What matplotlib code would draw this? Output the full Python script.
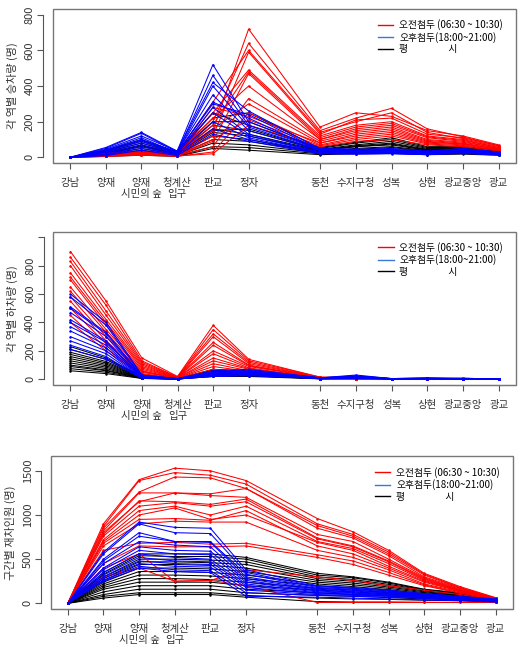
import matplotlib.pyplot as plt
from matplotlib.patches import Rectangle

plt.rcParams["font.family"] = ["Noto Sans CJK KR", "DejaVu Sans"]

stations = ["강남", "양재", "양재\n시민의 숲", "청계산\n입구", "판교", "정자",
            "동천", "수지구청", "성복", "상현", "광교중앙", "광교"]
# 정자와 동천 사이 한 칸 비움 (미금)
xpos = [0, 1, 2, 3, 4, 5, 7, 8, 9, 10, 11, 12]
legend_labels = ["오전첨두 (06:30 ~ 10:30)", "오후첨두(18:00~21:00)", "평                   시"]

# 각 역별 승차량
board_am = [
    [0, 20, 30, 15, 150, 720, 170, 250, 230, 150, 120, 70],
    [0, 15, 25, 10, 200, 640, 150, 220, 275, 160, 115, 65],
    [0, 25, 35, 20, 310, 600, 140, 200, 250, 140, 105, 60],
    [0, 10, 20, 10, 120, 590, 130, 210, 220, 130, 110, 65],
    [0, 18, 30, 15, 250, 490, 120, 180, 200, 120, 100, 55],
    [0, 12, 25, 12, 180, 480, 110, 170, 190, 115, 95, 55],
    [0, 8, 15, 8, 90, 470, 100, 160, 180, 110, 90, 50],
    [0, 20, 30, 15, 220, 400, 100, 150, 170, 100, 85, 50],
    [0, 10, 20, 10, 60, 330, 90, 140, 160, 95, 80, 45],
    [0, 15, 25, 12, 160, 300, 80, 130, 150, 90, 75, 45],
    [0, 5, 12, 6, 30, 250, 70, 110, 130, 80, 70, 40],
    [0, 12, 20, 10, 100, 210, 65, 100, 120, 75, 65, 40],
    [0, 8, 15, 8, 20, 180, 60, 90, 100, 70, 60, 35],
    [0, 20, 30, 12, 280, 230, 80, 120, 140, 85, 75, 45],
]
board_pm = [
    [0, 55, 140, 35, 520, 200, 50, 45, 50, 35, 50, 30],
    [0, 50, 135, 30, 460, 180, 45, 40, 45, 30, 45, 30],
    [0, 45, 120, 35, 420, 260, 48, 45, 40, 35, 40, 28],
    [0, 40, 110, 25, 400, 170, 40, 38, 40, 30, 42, 25],
    [0, 35, 100, 30, 350, 150, 38, 35, 35, 28, 38, 25],
    [0, 30, 90, 25, 310, 220, 35, 30, 35, 25, 35, 22],
    [0, 25, 80, 20, 280, 130, 30, 30, 30, 22, 32, 20],
    [0, 20, 70, 20, 250, 120, 28, 25, 28, 20, 30, 20],
    [0, 15, 60, 15, 200, 110, 25, 22, 25, 18, 28, 18],
    [0, 12, 50, 15, 160, 100, 22, 20, 22, 15, 25, 15],
    [0, 10, 40, 10, 130, 90, 20, 18, 20, 15, 22, 12],
    [0, 35, 95, 28, 300, 240, 40, 35, 38, 30, 40, 25],
]
board_off = [
    [0, 40, 100, 30, 250, 180, 55, 85, 110, 60, 60, 40],
    [0, 35, 90, 25, 220, 250, 50, 80, 100, 55, 55, 38],
    [0, 30, 80, 25, 200, 200, 45, 70, 90, 50, 50, 35],
    [0, 25, 70, 20, 180, 150, 40, 65, 80, 45, 45, 32],
    [0, 20, 60, 20, 160, 130, 38, 60, 70, 40, 42, 30],
    [0, 18, 50, 15, 140, 120, 35, 50, 60, 38, 38, 28],
    [0, 15, 40, 15, 120, 100, 30, 45, 55, 35, 35, 25],
    [0, 12, 35, 12, 100, 90, 28, 40, 45, 30, 30, 22],
    [0, 10, 30, 10, 80, 70, 25, 35, 40, 25, 28, 20],
    [0, 8, 20, 8, 60, 55, 20, 28, 30, 20, 22, 15],
    [0, 5, 12, 5, 50, 40, 15, 20, 22, 15, 18, 12],
    [0, 22, 65, 18, 150, 160, 42, 60, 75, 42, 45, 30],
]

# 각 역별 하차량
alight_am = [
    [900, 550, 150, 20, 380, 140, 15, 10, 5, 5, 8, 0],
    [860, 520, 130, 15, 350, 130, 15, 10, 5, 5, 8, 0],
    [830, 480, 120, 15, 320, 120, 12, 8, 5, 4, 6, 0],
    [800, 450, 110, 12, 300, 110, 12, 8, 4, 4, 6, 0],
    [750, 420, 100, 12, 260, 100, 10, 7, 4, 3, 5, 0],
    [720, 400, 90, 10, 240, 95, 10, 7, 4, 3, 5, 0],
    [700, 380, 80, 10, 200, 90, 10, 6, 3, 3, 5, 0],
    [650, 350, 70, 10, 180, 80, 8, 6, 3, 3, 4, 0],
    [620, 330, 60, 8, 150, 75, 8, 5, 3, 2, 4, 0],
    [580, 300, 55, 8, 130, 70, 8, 5, 3, 2, 4, 0],
    [550, 270, 50, 6, 110, 60, 6, 5, 2, 2, 3, 0],
    [500, 250, 40, 6, 90, 55, 6, 4, 2, 2, 3, 0],
    [450, 220, 35, 5, 70, 50, 5, 4, 2, 2, 3, 0],
    [400, 200, 30, 5, 50, 40, 5, 3, 2, 1, 2, 0],
]
alight_pm = [
    [600, 400, 30, 5, 60, 70, 10, 30, 5, 10, 5, 0],
    [580, 380, 28, 5, 55, 65, 10, 25, 5, 8, 5, 0],
    [510, 330, 25, 5, 50, 60, 10, 22, 5, 8, 5, 0],
    [500, 320, 22, 4, 45, 55, 8, 20, 4, 7, 4, 0],
    [470, 300, 20, 4, 40, 50, 8, 18, 4, 6, 4, 0],
    [420, 270, 18, 4, 40, 50, 8, 15, 4, 6, 4, 0],
    [400, 260, 15, 3, 35, 45, 7, 15, 3, 5, 3, 0],
    [370, 240, 14, 3, 30, 40, 7, 12, 3, 5, 3, 0],
    [340, 220, 12, 3, 30, 40, 6, 12, 3, 4, 3, 0],
    [300, 200, 10, 3, 25, 35, 6, 10, 3, 4, 3, 0],
    [270, 180, 8, 2, 25, 30, 5, 10, 2, 3, 2, 0],
    [240, 160, 8, 2, 20, 30, 5, 8, 2, 3, 2, 0],
    [210, 140, 6, 2, 20, 25, 5, 8, 2, 3, 2, 0],
]
alight_off = [
    [230, 150, 20, 5, 70, 60, 8, 10, 5, 5, 5, 0],
    [210, 140, 18, 5, 65, 55, 8, 10, 5, 5, 5, 0],
    [190, 125, 16, 4, 60, 50, 7, 9, 4, 4, 4, 0],
    [175, 115, 15, 4, 55, 48, 7, 8, 4, 4, 4, 0],
    [160, 105, 14, 4, 50, 45, 6, 8, 4, 4, 4, 0],
    [145, 95, 12, 3, 45, 40, 6, 7, 3, 3, 3, 0],
    [130, 85, 11, 3, 40, 38, 5, 6, 3, 3, 3, 0],
    [115, 75, 10, 3, 35, 35, 5, 6, 3, 3, 3, 0],
    [100, 65, 9, 2, 30, 30, 4, 5, 3, 2, 3, 0],
    [90, 60, 8, 2, 28, 28, 4, 5, 2, 2, 2, 0],
    [75, 50, 7, 2, 25, 25, 4, 4, 2, 2, 2, 0],
    [60, 40, 6, 2, 20, 20, 3, 4, 2, 2, 2, 0],
]

# 구간별 재차인원
load_am = [
    [0, 900, 1400, 1530, 1500, 1390, 960, 810, 600, 340, 190, 65],
    [0, 870, 1390, 1480, 1450, 1350, 900, 780, 580, 330, 180, 60],
    [0, 850, 1260, 1430, 1420, 1300, 880, 760, 560, 320, 175, 60],
    [0, 820, 1250, 1250, 1240, 1300, 850, 740, 540, 300, 170, 55],
    [0, 800, 1150, 1250, 1220, 1200, 780, 700, 500, 290, 160, 55],
    [0, 780, 1160, 1150, 1120, 1180, 740, 650, 480, 280, 155, 50],
    [0, 760, 1100, 1140, 1100, 1150, 730, 640, 470, 270, 150, 50],
    [0, 720, 1050, 1100, 1000, 1100, 700, 620, 450, 260, 145, 50],
    [0, 700, 1000, 1080, 950, 1000, 690, 600, 420, 250, 140, 48],
    [0, 680, 950, 960, 940, 1050, 650, 560, 400, 240, 135, 45],
    [0, 650, 900, 930, 920, 920, 600, 520, 380, 220, 130, 45],
    [0, 600, 680, 690, 670, 680, 550, 480, 350, 210, 120, 40],
    [0, 450, 650, 640, 640, 650, 520, 440, 320, 200, 115, 40],
    [0, 400, 560, 250, 260, 380, 300, 260, 200, 150, 100, 35],
    [0, 300, 400, 250, 260, 200, 10, 10, 10, 10, 10, 10],
]
load_pm = [
    [0, 580, 920, 860, 850, 380, 200, 180, 150, 110, 80, 50],
    [0, 560, 900, 800, 790, 350, 190, 170, 140, 105, 75, 45],
    [0, 500, 800, 700, 700, 330, 180, 160, 130, 100, 70, 45],
    [0, 480, 760, 700, 690, 300, 170, 150, 125, 95, 68, 42],
    [0, 450, 700, 660, 640, 280, 160, 140, 115, 90, 65, 40],
    [0, 400, 640, 600, 590, 260, 150, 130, 110, 85, 60, 38],
    [0, 380, 600, 560, 550, 240, 140, 120, 100, 80, 58, 35],
    [0, 350, 560, 520, 500, 220, 130, 115, 95, 75, 55, 33],
    [0, 320, 520, 480, 470, 200, 120, 105, 90, 70, 50, 30],
    [0, 300, 480, 450, 440, 180, 110, 100, 85, 65, 48, 28],
    [0, 280, 450, 420, 410, 150, 100, 90, 80, 60, 45, 25],
    [0, 260, 420, 380, 370, 120, 90, 80, 70, 55, 40, 22],
    [0, 250, 400, 360, 350, 80, 70, 60, 50, 40, 30, 15],
]
load_off = [
    [0, 350, 560, 560, 560, 520, 340, 300, 240, 160, 120, 60],
    [0, 330, 540, 530, 530, 500, 320, 290, 230, 155, 115, 58],
    [0, 300, 500, 500, 490, 470, 300, 270, 215, 150, 110, 55],
    [0, 280, 470, 470, 460, 440, 280, 250, 200, 140, 105, 52],
    [0, 260, 440, 440, 430, 400, 260, 230, 185, 130, 95, 50],
    [0, 240, 400, 400, 390, 360, 240, 210, 170, 120, 90, 45],
    [0, 220, 360, 360, 350, 320, 220, 190, 155, 110, 85, 42],
    [0, 200, 320, 320, 310, 280, 200, 170, 140, 100, 80, 40],
    [0, 180, 280, 280, 270, 240, 170, 150, 120, 90, 70, 35],
    [0, 160, 240, 240, 240, 200, 150, 130, 105, 80, 60, 30],
    [0, 130, 200, 200, 200, 160, 120, 100, 85, 65, 50, 25],
    [0, 100, 160, 160, 160, 120, 90, 80, 65, 50, 40, 20],
    [0, 80, 120, 120, 120, 90, 60, 50, 45, 35, 30, 15],
    [0, 60, 100, 100, 100, 70, 20, 15, 15, 12, 10, 10],
]


def draw_panel(ax, am, pm, off, ylabel, ylim, yticks, ylabeled):
    # spine 위치를 먼저 잡아야 tick label 설정이 초기화되지 않음
    for s in ["top", "right"]:
        ax.spines[s].set_visible(False)
    ax.spines["bottom"].set_color("#777777")
    ax.spines["left"].set_position(("outward", 7))
    ax.spines["left"].set_color("#555555")

    for rows, c in [(off, "black"), (am, "red"), (pm, "blue")]:
        for r in rows:
            ax.plot(xpos, r, color=c, lw=0.75, marker="o", ms=1.8, mew=0)
    ax.set_xlim(-0.48, 12.48)
    ax.set_ylim(*ylim)
    ax.set_xticks(xpos)
    ax.set_xticklabels(stations, fontsize=7.5, color="#333333", linespacing=1.1)
    ax.tick_params(axis="x", length=4, pad=7, color="#555555")
    ax.set_yticks(yticks)
    ax.set_yticklabels([str(v) if v in ylabeled else "" for v in yticks],
                       fontsize=8, color="#333333")
    ax.tick_params(axis="y", length=4, pad=2, color="#555555", labelrotation=90)
    for lab in ax.get_yticklabels():
        lab.set_verticalalignment("center")
    ax.spines["left"].set_bounds(yticks[0], yticks[-1])
    ax.set_ylabel(ylabel, fontsize=8, color="#333333", labelpad=5)
    ax.add_patch(Rectangle((0, 0), 1, 1, transform=ax.transAxes, fill=False,
                           edgecolor="#777777", lw=1.0, clip_on=False))
    handles = [plt.Line2D([], [], color=c, lw=1) for c in ["red", "#3a78d8", "black"]]
    ax.legend(handles, legend_labels, loc="upper right", frameon=False, fontsize=7,
              handlelength=1.6, handletextpad=0.6, labelspacing=0.15,
              bbox_to_anchor=(0.985, 0.97), borderaxespad=0.2)


fig = plt.figure(figsize=(5.28, 6.47), dpi=100)
ax1 = fig.add_axes([0.100, 0.748, 0.877, 0.238])
ax2 = fig.add_axes([0.101, 0.405, 0.876, 0.237])
ax3 = fig.add_axes([0.096, 0.0587, 0.875, 0.236])

draw_panel(ax1, board_am, board_pm, board_off, "각 역별 승차량 (명)",
           (-32, 832), [0, 200, 400, 600, 800], [0, 200, 400, 600, 800])
draw_panel(ax2, alight_am, alight_pm, alight_off, "각 역별 하차량 (명)",
           (-40, 1040), [0, 200, 400, 600, 800, 1000], [0, 200, 400, 600, 800])
draw_panel(ax3, load_am, load_pm, load_off, "구간별 재차인원 (명)",
           (-64, 1664), [0, 500, 1000, 1500], [0, 500, 1000, 1500])

fig.savefig("out.png", dpi=100)
